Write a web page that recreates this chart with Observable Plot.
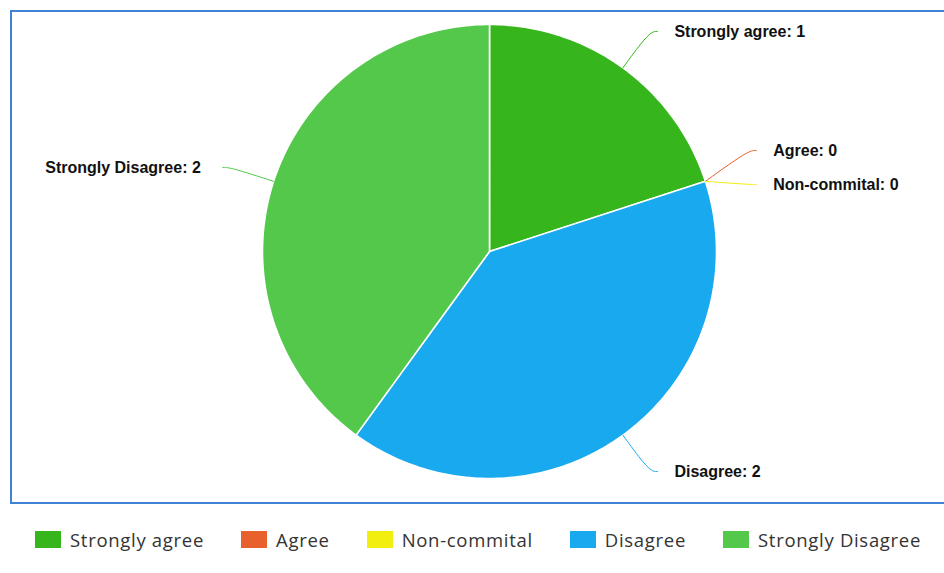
<!DOCTYPE html>
<html>
<head>
<meta charset="utf-8">
<script src="https://cdn.jsdelivr.net/npm/d3@7"></script>
<script src="https://cdn.jsdelivr.net/npm/@observablehq/plot@0.6"></script>
<style>
  html, body { margin: 0; padding: 0; background: #fff; overflow: hidden; }
  #wrap { position: relative; width: 944px; height: 573px; }
  #border { position: absolute; left: 10px; top: 10px; width: 990px; height: 494px;
            border: 2.5px solid #3f82d6; border-right: none; box-sizing: border-box; }
  #chart { position: absolute; left: 0; top: 0; }
  #legend { position: absolute; left: 35px; top: 527px; width: 1000px; display: flex; align-items: center;
            white-space: nowrap;
            font-family: "Open Sans", sans-serif; font-size: 18.5px; letter-spacing: 0.7px; color: #333; }
  .item { display: flex; align-items: center; margin-right: 37px; flex: none; }
  .sw { width: 26px; height: 17px; margin-right: 9px; flex: none; }
</style>
</head>
<body>
<div id="wrap">
  <div id="border"></div>
  <div id="chart"></div>
  <div id="legend"></div>
</div>
<script>
// ---- data ----
const categories = ["Strongly agree", "Agree", "Non-commital", "Disagree", "Strongly Disagree"];
const counts = [1, 0, 0, 2, 2];
const colors = ["#36b51d", "#e8612c", "#f2ee10", "#19a9ef", "#53c84b"];

// ---- layout (pixels) ----
const W = 944, H = 510;
const cx = 489, cy = 251, R = 227;
const labelGap = 45;   // connector length beyond the pie
const textGapR = 25;   // horizontal gap from connector end to text (right side)
const textGapL = 30;   // (left side)
const rowGap = 34;     // vertical separation for labels at the same angle

const total = d3.sum(counts);
let acc = 0;
const slices = categories.map((c, i) => {
  const a0 = acc / total * 2 * Math.PI;
  acc += counts[i];
  const a1 = acc / total * 2 * Math.PI;
  return {cat: c, value: counts[i], a0, a1, mid: (a0 + a1) / 2};
});

// polygon points for each slice (unit radius, math coords: y up, angle clockwise from top)
const piePts = [];
for (const s of slices) {
  if (s.value <= 0) continue;
  const n = Math.max(2, Math.ceil((s.a1 - s.a0) / (Math.PI / 180)));
  piePts.push({cat: s.cat, x: 0, y: 0});
  for (let k = 0; k <= n; k++) {
    const a = s.a0 + (s.a1 - s.a0) * k / n;
    piePts.push({cat: s.cat, x: Math.sin(a), y: Math.cos(a)});
  }
}

// label placement (unit coordinates)
const lr = 1 + labelGap / R;
const groups = d3.group(slices, s => s.mid.toFixed(6));
const labels = [];
const connPts = [];
for (const [, g] of groups) {
  g.forEach((s, j) => {
    const off = (j - (g.length - 1) / 2) * rowGap / R;
    const right = Math.sin(s.mid) >= 0;
    const ex = Math.sin(s.mid), ey = Math.cos(s.mid);
    const ax = lr * Math.sin(s.mid), ay = lr * Math.cos(s.mid) - off;
    const tx = ax + (right ? textGapR : -textGapL) / R;
    labels.push({cat: s.cat, text: `${s.cat}: ${s.value}`, x: tx, y: ay, right});
    connPts.push({cat: s.cat, x: ex, y: ey});
    connPts.push({cat: s.cat, x: ax, y: ay});
    connPts.push({cat: s.cat, x: ax + (right ? 1 : -1) * 8 / R, y: ay});
  });
}

const color = {domain: categories, range: colors};
const font = {fontFamily: "Liberation Sans, Arial, sans-serif", fontWeight: "bold", fontSize: 16, fill: "#111"};

const plot = Plot.plot({
  width: W, height: H,
  margin: 0, marginTop: 0, marginRight: 0, marginBottom: 0, marginLeft: 0,
  x: {domain: [-cx / R, (W - cx) / R], axis: null},
  y: {domain: [-(H - cy) / R, cy / R], axis: null},
  color,
  style: {background: "transparent", overflow: "visible"},
  marks: [
    Plot.line(piePts, {x: "x", y: "y", z: "cat", fill: "cat", stroke: "white", strokeWidth: 1.6,
                       strokeLinejoin: "round", curve: "linear-closed"}),
    Plot.line(connPts, {x: "x", y: "y", z: "cat", stroke: "cat", strokeWidth: 1, curve: "basis"}),
    Plot.text(labels.filter(d => d.right), {x: "x", y: "y", text: "text", textAnchor: "start", ...font}),
    Plot.text(labels.filter(d => !d.right), {x: "x", y: "y", text: "text", textAnchor: "end", ...font})
  ]
});
document.getElementById("chart").appendChild(plot);

// legend
const leg = document.getElementById("legend");
categories.forEach((c, i) => {
  const it = document.createElement("div");
  it.className = "item";
  const sw = document.createElement("span");
  sw.className = "sw";
  sw.style.background = colors[i];
  const t = document.createElement("span");
  t.textContent = c;
  it.appendChild(sw); it.appendChild(t);
  leg.appendChild(it);
});
</script>
</body>
</html>
